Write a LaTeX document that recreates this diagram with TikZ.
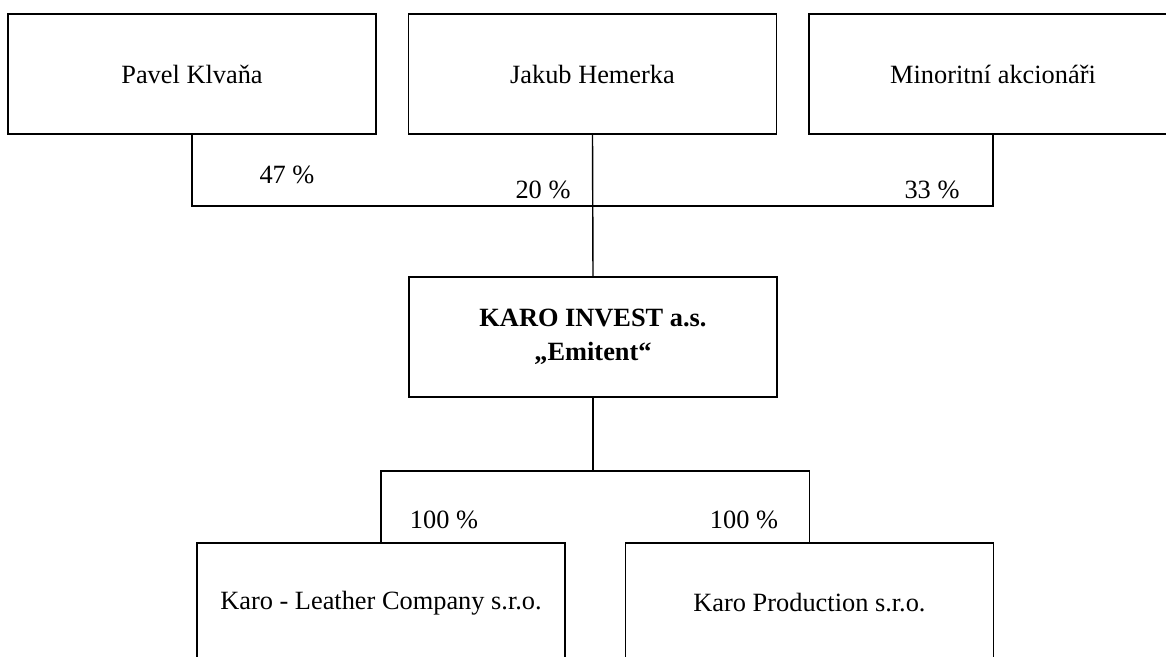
\documentclass[tikz,border=0pt]{standalone}
\usepackage{fontspec}
\setmainfont{Liberation Serif}
\usetikzlibrary{positioning}

\begin{document}
\begin{tikzpicture}[
    owner/.style={draw, rectangle, line width=0.8pt, minimum width=7.36cm, minimum height=2.4cm, font=\fontsize{15}{18}\selectfont, text height=0.38cm, text depth=0pt, inner sep=0pt},
    firm/.style={draw, rectangle, line width=0.8pt, minimum width=7.36cm, minimum height=2.4cm, font=\fontsize{15}{19.5}\selectfont, align=center},
    share/.style={font=\fontsize{15}{18}\selectfont, inner sep=0pt},
    link/.style={line width=0.8pt}]
            \clip (0,0) rectangle (23.32,-13.14);

            % Shareholders
            \node[owner] (pavel) at (3.84,-1.48) {Pavel Klvaňa};
            \node[owner] (jakub) at (11.85,-1.48) {Jakub Hemerka};
            \node[owner] (minor) at (19.86,-1.48) {Minoritní akcionáři};

            % Issuer
            \node[firm] (karo) at (11.86,-6.74) {\textbf{KARO INVEST a.s.}\\\textbf{„Emitent“}};

            % Subsidiaries
            \node[firm] (leather) at (7.62,-12.06) {Karo - Leather Company s.r.o.};
            \node[firm] (production) at (16.19,-12.06) {Karo Production s.r.o.};

            \coordinate (topbus) at (0,-4.12);
            \coordinate (lowbus) at (0,-9.42);

            \draw[link] (pavel.south) -- (pavel.south |- topbus) -| (minor.south);
            \draw[link] (jakub.south) -- (karo.north);
            \draw[link] (karo.south) -- (karo.south |- lowbus);
            \draw[link] (leather.north) -- (leather.north |- lowbus) -| (production.north);

            % Ownership shares
            \node[share] (sharepavel) at (5.74,-3.5) {47 \%};
            \node[share] (sharejakub) at (10.86,-3.8) {20 \%};
            \node[share] (shareminor) at (18.64,-3.8) {33 \%};
            \node[share] (shareleather) at (8.88,-10.4) {100 \%};
            \node[share] (shareproduction) at (14.88,-10.4) {100 \%};
        \end{tikzpicture}
\end{document}
